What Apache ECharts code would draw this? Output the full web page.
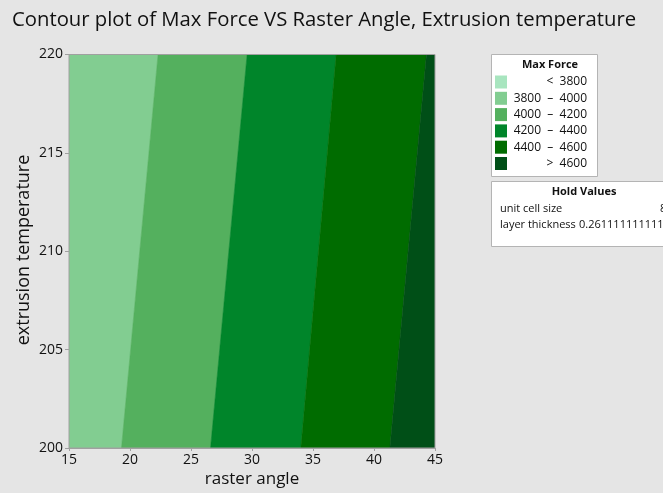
<!DOCTYPE html>
<html>
<head>
<meta charset="utf-8">
<script src="https://cdn.jsdelivr.net/npm/echarts@6/dist/echarts.min.js"></script>
<style>
  html, body { margin: 0; padding: 0; background: #e5e5e5; }
  #chart { width: 663px; height: 493px; }
</style>
</head>
<body>
<div id="chart"></div>
<script>
// Contour levels of Max Force and the raster angle where each level line
// crosses the bottom (200) and top (220) of the temperature range.
const levelLabels = ['<  3800', '3800  \u2013  4000', '4000  \u2013  4200', '4200  \u2013  4400', '4400  \u2013  4600', '>  4600'];
const levelColors = ['#a8e5bf', '#82cd91', '#54b05e', '#00852a', '#006c00', '#004f17'];
const tempRange = [200, 220];
const angleRange = [15, 45];
// boundary angle of 3800/4000, 4000/4200, 4200/4400, 4400/4600 at temp 200 and temp 220
const boundaryAt200 = [19.3, 26.6, 34.0, 41.3];
const boundaryAt220 = [22.3, 29.6, 36.9, 44.3];
// bands actually present in the plotted region (index into levelColors)
const bandLevels = [1, 2, 3, 4, 5];
const holdNames = ['unit cell size', 'layer thickness'];
const holdValues = ['8', '0.261111111111111'];
const xTitle = 'raster angle';
const yTitle = 'extrusion temperature';

// One polygon per band: angle at 200 (left), at 220 (left), at 220 (right), at 200 (right)
const edges200 = [angleRange[0]].concat(boundaryAt200, [angleRange[1]]);
const edges220 = [angleRange[0]].concat(boundaryAt220, [angleRange[1]]);
const bands = bandLevels.map((lvl, i) => [edges200[i], edges220[i], edges220[i + 1], edges200[i + 1], lvl]);

const chart = echarts.init(document.getElementById('chart'));
const font = '"Open Sans", "Noto Sans", sans-serif';

const legendChildren = [
  { type: 'rect', shape: { x: 491.5, y: 54.5, width: 106, height: 122 },
    style: { fill: '#ffffff', stroke: '#b4b4b4', lineWidth: 1 } },
  { type: 'text', x: 550, y: 65, style: { text: 'Max Force', font: 'bold 11px ' + font, fill: '#111', align: 'center', verticalAlign: 'middle' } }
];
levelLabels.forEach((lab, i) => {
  const y = 82 + i * 16.3;
  legendChildren.push({ type: 'rect', shape: { x: 495, y: y - 6.5, width: 12, height: 13 }, style: { fill: levelColors[i] } });
  legendChildren.push({ type: 'text', x: 587, y: y, style: { text: lab, font: '12px ' + font, fill: '#111', align: 'right', verticalAlign: 'middle' } });
});
legendChildren.push(
  { type: 'rect', shape: { x: 491.5, y: 181.5, width: 190, height: 65 },
    style: { fill: '#ffffff', stroke: '#b4b4b4', lineWidth: 1 } },
  { type: 'text', x: 584, y: 192, style: { text: 'Hold Values', font: 'bold 11px ' + font, fill: '#111', align: 'center', verticalAlign: 'middle' } },
  { type: 'text', x: 500, y: 209, style: { text: holdNames[0], font: '11px ' + font, fill: '#111', verticalAlign: 'middle' } },
  { type: 'text', x: 660, y: 209, style: { text: holdValues[0], font: '11px ' + font, fill: '#111', verticalAlign: 'middle' } },
  { type: 'text', x: 500, y: 225, style: { text: holdNames[1], font: '11px ' + font, fill: '#111', verticalAlign: 'middle' } },
  { type: 'text', x: 579, y: 225, style: { text: holdValues[1], font: '11px ' + font, fill: '#111', verticalAlign: 'middle' } }
);

chart.setOption({
  backgroundColor: '#e5e5e5',
  animation: false,
  title: {
    text: 'Contour plot of Max Force VS Raster Angle, Extrusion temperature',
    left: 7, top: 5,
    textStyle: { fontFamily: font, fontSize: 20.3, fontWeight: 'normal', color: '#111' }
  },
  grid: { left: 69, right: 228, top: 54.5, bottom: 45, outerBoundsMode: 'none' },
  xAxis: {
    type: 'value', min: angleRange[0], max: angleRange[1], interval: 5,
    name: xTitle, nameLocation: 'middle', nameGap: 23, nameMoveOverlap: false,
    nameTextStyle: { fontFamily: font, fontSize: 17, color: '#111' },
    axisLine: { show: true, lineStyle: { color: '#a0a0a0' } },
    axisTick: { show: true, length: 3, lineStyle: { color: '#a0a0a0' } },
    axisLabel: { fontFamily: font, fontSize: 14, color: '#111', margin: 5 },
    splitLine: { show: false }
  },
  yAxis: {
    type: 'value', min: tempRange[0], max: tempRange[1], interval: 5,
    axisLine: { show: false },
    axisTick: { show: true, length: 4, lineStyle: { color: '#a0a0a0' } },
    axisLabel: { fontFamily: font, fontSize: 14, color: '#111', margin: 6 },
    splitLine: { show: false }
  },
  series: [{
    type: 'custom',
    data: bands,
    clip: true,
    renderItem: function (params, api) {
      const pts = [
        api.coord([api.value(0), tempRange[0]]),
        api.coord([api.value(1), tempRange[1]]),
        api.coord([api.value(2), tempRange[1]]),
        api.coord([api.value(3), tempRange[0]])
      ];
      return {
        type: 'polygon',
        shape: { points: pts },
        style: { fill: levelColors[api.value(4)], stroke: levelColors[api.value(4)], lineWidth: 0.5 }
      };
    },
    encode: { x: [0, 1, 2, 3], y: [] },
    silent: true
  }],
  graphic: [
    { type: 'rect', z: 10, silent: true, shape: { x: 69, y: 54.5, width: 366, height: 393.5 },
      style: { fill: 'none', stroke: '#a0a0a0', lineWidth: 1 } },
    // vertical axis title
    { type: 'text', x: 24, y: 250, rotation: Math.PI / 2, silent: true,
      style: { text: yTitle, font: '18px ' + font, fill: '#111', align: 'center', verticalAlign: 'middle' } },
    { type: 'group', children: legendChildren }
  ]
});
</script>
</body>
</html>
